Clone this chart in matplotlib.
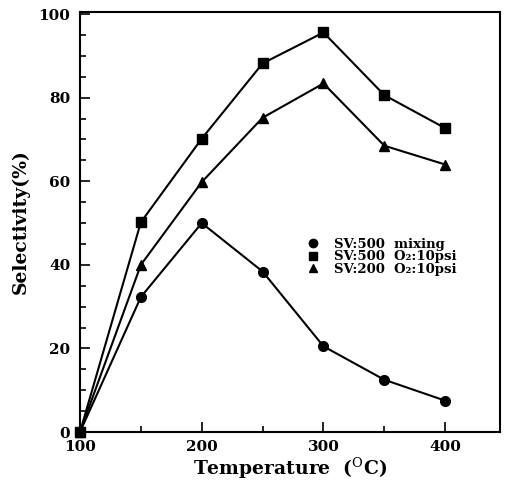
import matplotlib
matplotlib.use("Agg")
import matplotlib.pyplot as plt
from matplotlib.lines import Line2D
from matplotlib.ticker import MultipleLocator

temperature = [100, 150, 200, 250, 300, 350, 400]
sv500_mixing = [0, 32.3, 50, 38.4, 20.5, 12.5, 7.5]
sv500_o2 = [0, 50.2, 70.2, 88.2, 95.6, 80.6, 72.7]
sv200_o2 = [0, 40, 59.8, 75.2, 83.4, 68.5, 64]
labels = ["SV:500  mixing", "SV:500  O\u2082:10psi", "SV:200  O\u2082:10psi"]

plt.rcParams['font.family'] = ['DejaVu Serif']
plt.rcParams['mathtext.fontset'] = 'dejavuserif'
plt.rcParams['mathtext.default'] = 'bf'

fig = plt.figure(figsize=(5.05, 4.8), dpi=100)
ax = fig.add_axes([80/505, 48/480, 420/505, 420/480])

ax.plot(temperature, sv500_mixing, '-o', color='black', lw=1.5, ms=7, clip_on=False)
ax.plot(temperature, sv500_o2, '-s', color='black', lw=1.5, ms=7, clip_on=False)
ax.plot(temperature, sv200_o2, '-^', color='black', lw=1.5, ms=7, clip_on=False)

ax.set_xlim(100, 445)
ax.set_ylim(0, 100.5)
ax.set_xticks([100, 200, 300, 400])
ax.set_yticks([0, 20, 40, 60, 80, 100])
ax.xaxis.set_minor_locator(MultipleLocator(50))
ax.yaxis.set_minor_locator(MultipleLocator(5))
ax.tick_params(which='both', direction='in', top=False, right=False, width=1.2)
ax.tick_params(which='major', length=7, labelsize=11)
ax.tick_params(axis='y', which='major', pad=7)
ax.tick_params(axis='x', which='major', pad=6)
ax.tick_params(which='minor', length=4)
for lab in ax.get_xticklabels() + ax.get_yticklabels():
    lab.set_fontweight('bold')
for s in ax.spines.values():
    s.set_linewidth(1.5)

ax.set_xlabel(r"Temperature  ($^{\rm O}$C)", fontsize=13.5, fontweight='bold', labelpad=1)
ax.set_ylabel("Selectivity(%)", fontsize=13.5, fontweight='bold', labelpad=6)

handles = [Line2D([], [], color='black', marker=m, ls='none', ms=6) for m in ['o', 's', '^']]
leg = ax.legend(handles, labels, loc='upper left', bbox_to_anchor=(0.538, 0.462), frameon=False,
                handletextpad=1.1, labelspacing=-0.05, handlelength=1.0,
                borderpad=0, borderaxespad=0,
                prop={'weight': 'bold', 'size': 9.5})

fig.savefig("out.png", dpi=100)
